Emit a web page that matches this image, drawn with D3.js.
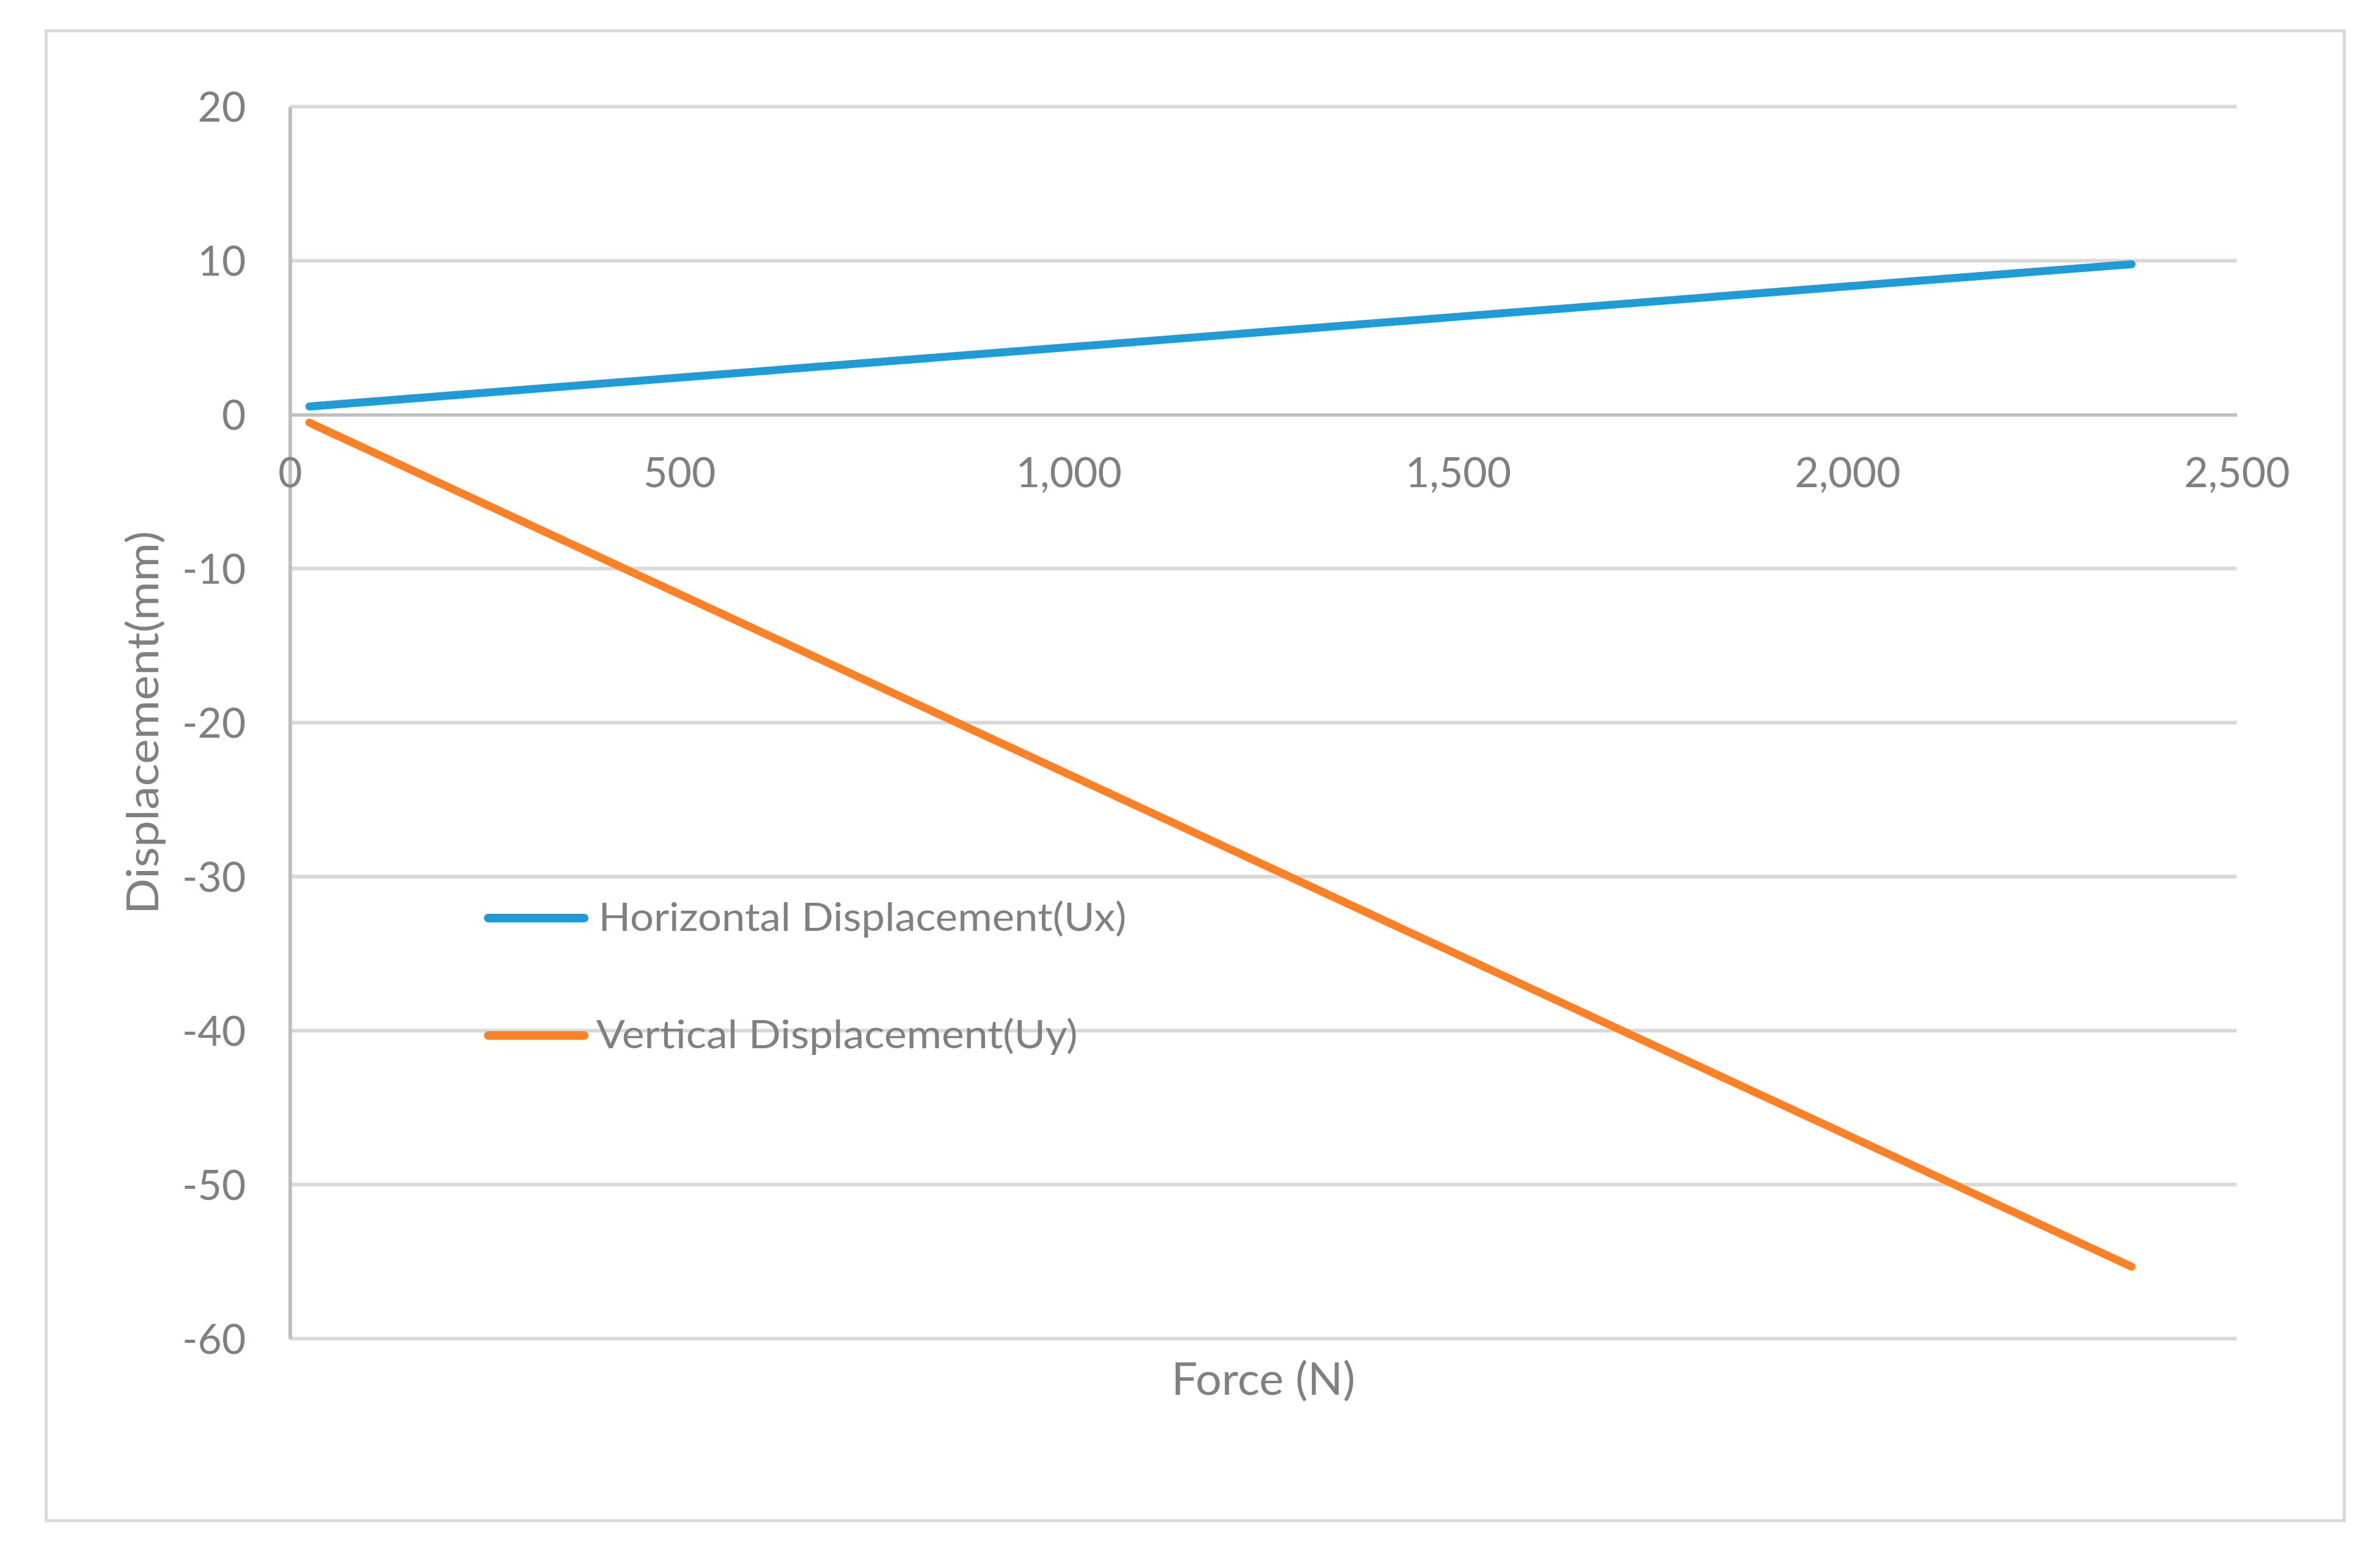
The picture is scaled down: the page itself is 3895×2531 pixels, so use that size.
<!DOCTYPE html>
<html>
<head>
<meta charset="utf-8">
<script src="https://cdn.jsdelivr.net/npm/d3@7"></script>
<style>
  html, body { margin: 0; padding: 0; background: #ffffff; }
  svg { display: block; }
  text { font-family: Lato, "Open Sans", sans-serif; fill: #808080; }
</style>
</head>
<body>
<script>
// ---- data ----
const force = [25, 500, 1000, 1500, 2000, 2365];
const horizontalUx = [0.53, 2.41, 4.38, 6.36, 8.33, 9.77];
const verticalUy = [-0.52, -11.65, -23.36, -35.07, -46.78, -55.33];
const seriesNames = ["Horizontal Displacement(Ux)", "Vertical Displacement(Uy)"];
const seriesColors = ["#1f9cd8", "#fe8027"];
const xTicks = [0, 500, 1000, 1500, 2000, 2500];
const yTicks = [20, 10, 0, -10, -20, -30, -40, -50, -60];
const xTitle = "Force (N)";
const yTitle = "Displacement(mm)";

const W = 3895, H = 2531;
const svg = d3.select("body").append("svg").attr("width", W).attr("height", H);

// outer chart border
svg.append("rect")
  .attr("x", 75.5).attr("y", 50.5).attr("width", 3761).attr("height", 2437.5)
  .attr("fill", "#ffffff").attr("stroke", "#d9d9d9").attr("stroke-width", 5);

const x = d3.scaleLinear().domain([0, 2500]).range([474.5, 3660.5]);
const y = d3.scaleLinear().domain([-60, 20]).range([2190, 174.5]);

// gridlines
svg.append("g").selectAll("line").data(yTicks.filter(d => d !== 0)).join("line")
  .attr("x1", x(0)).attr("x2", x(2500))
  .attr("y1", d => y(d)).attr("y2", d => y(d))
  .attr("stroke", "#d9d9d9").attr("stroke-width", 6);

// y axis (hyphen-minus labels as in the reference)
const yAxis = d3.axisLeft(y).tickValues(yTicks).tickSize(0).tickPadding(72).tickFormat(d => String(d));
const gy = svg.append("g").attr("transform", `translate(${x(0)},0)`).call(yAxis);
gy.select(".domain").attr("stroke", "#bfbfbf").attr("stroke-width", 6);
gy.selectAll(".tick text").attr("font-size", 68).attr("fill", "#808080")
  .attr("font-family", "Lato, 'Open Sans', sans-serif").attr("dy", "0.36em");

// x axis (crosses at y = 0)
const xAxis = d3.axisBottom(x).tickValues(xTicks).tickSize(0).tickPadding(70).tickFormat(d3.format(","));
const gx = svg.append("g").attr("transform", `translate(0,${y(0)})`).call(xAxis);
gx.select(".domain").attr("stroke", "#bfbfbf").attr("stroke-width", 5.5);
gx.selectAll(".tick text").attr("font-size", 68).attr("fill", "#808080")
  .attr("font-family", "Lato, 'Open Sans', sans-serif").attr("dy", "0.71em");

// series lines
const line = d3.line().x(d => x(d[0])).y(d => y(d[1]));
const series = [horizontalUx, verticalUy];
series.forEach((vals, i) => {
  svg.append("path")
    .datum(force.map((f, j) => [f, vals[j]]))
    .attr("d", line)
    .attr("fill", "none")
    .attr("stroke", seriesColors[i])
    .attr("stroke-width", 13)
    .attr("stroke-linecap", "round")
    .attr("stroke-linejoin", "round");
});

// axis titles
svg.append("text")
  .attr("x", (x(0) + x(2500)) / 2).attr("y", 2282)
  .attr("text-anchor", "middle").attr("font-size", 74)
  .attr("textLength", 301).attr("lengthAdjust", "spacingAndGlyphs")
  .text(xTitle);

svg.append("text")
  .attr("transform", `translate(259,${(y(20) + y(-60)) / 2}) rotate(-90)`)
  .attr("text-anchor", "middle").attr("font-size", 72)
  .attr("textLength", 627).attr("lengthAdjust", "spacingAndGlyphs")
  .text(yTitle);

// legend
const legendY = [1502, 1694];
const legendTextX = [979.5, 975.7];
const legendTextW = [864, 788];
const lg = svg.append("g");
seriesNames.forEach((name, i) => {
  lg.append("line")
    .attr("x1", 799).attr("x2", 956)
    .attr("y1", legendY[i]).attr("y2", legendY[i])
    .attr("stroke", seriesColors[i]).attr("stroke-width", 14)
    .attr("stroke-linecap", "round");
  lg.append("text")
    .attr("x", legendTextX[i]).attr("y", legendY[i] + 21)
    .attr("font-size", 64)
    .attr("textLength", legendTextW[i]).attr("lengthAdjust", "spacingAndGlyphs")
    .text(name);
});
</script>
</body>
</html>
